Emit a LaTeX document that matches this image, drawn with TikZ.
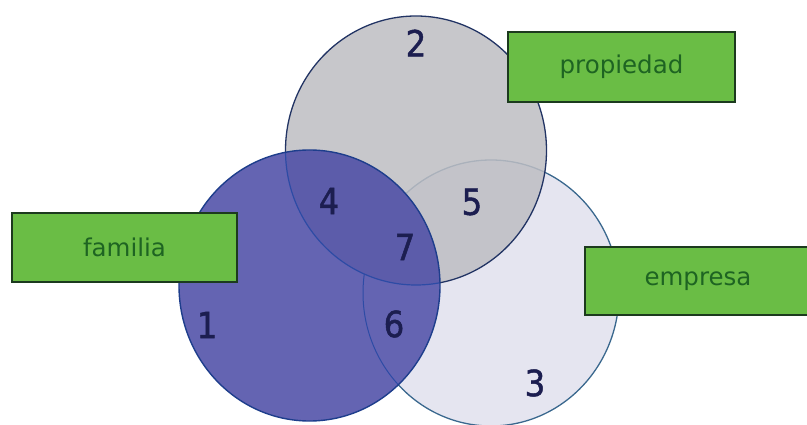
\documentclass[tikz,border=0pt]{standalone}
\usepackage{fontspec}
\setmainfont{DejaVu Sans}
\newfontfamily\digitfont[FakeBold=1.3,FakeStretch=0.9]{DejaVu Sans}
\definecolor{empfill}{RGB}{229,229,240}
\definecolor{empline}{RGB}{58,104,142}
\definecolor{grayfill}{RGB}{190,190,195}
\definecolor{grayline}{RGB}{34,52,100}
\definecolor{bluefill}{RGB}{100,100,178}
\definecolor{bluedeep}{RGB}{92,92,170}
\definecolor{blueline}{RGB}{30,62,140}
\definecolor{innerline}{RGB}{45,75,165}
\definecolor{boxfill}{RGB}{106,189,69}
\definecolor{boxedge}{RGB}{28,58,30}
\definecolor{boxtext}{RGB}{30,100,34}
\definecolor{digitcol}{RGB}{28,30,80}
\begin{document}
\begin{tikzpicture}[x=1pt,y=-1pt,
  labelbox/.style={draw=boxedge, line width=1.4pt, fill=boxfill, text=boxtext,
    inner sep=0pt, font=\fontsize{24.5}{28}\selectfont},
  digit/.style={text=digitcol, inner sep=0pt, font=\digitfont\fontsize{36}{40}\selectfont}]
\useasboundingbox (0,0) rectangle (807,425);
\fill[white] (0,0) rectangle (807,425);

% empresa circle (bottom layer)
\fill[empfill] (491,293) ellipse [x radius=128pt, y radius=133pt];
\draw[empline, line width=1.3pt] (491,293) ellipse [x radius=128pt, y radius=133pt];

% propiedad circle, slightly translucent so the empresa rim shows faintly
\fill[grayfill, fill opacity=0.85] (416,150.5) ellipse [x radius=130.5pt, y radius=134.5pt];
\draw[grayline, line width=1.3pt] (416,150.5) ellipse [x radius=130.5pt, y radius=134.5pt];

% familia circle
\fill[bluefill] (309.5,285.5) ellipse [x radius=130.5pt, y radius=135.5pt];
\begin{scope}
  \clip (309.5,285.5) ellipse [x radius=130.5pt, y radius=135.5pt];
  % empresa rim seen through familia
  \draw[innerline, line width=1pt] (491,293) ellipse [x radius=128pt, y radius=133pt];
  % overlap familia / propiedad, slightly deeper, hides the empresa rim
  \fill[bluedeep] (416,150.5) ellipse [x radius=130.5pt, y radius=134.5pt];
  \draw[innerline, line width=1.2pt] (416,150.5) ellipse [x radius=130.5pt, y radius=134.5pt];
\end{scope}
\draw[blueline, line width=1.4pt] (309.5,285.5) ellipse [x radius=130.5pt, y radius=135.5pt];

% region numbers
\node[digit] (n2) at (416,43) {2};
\node[digit] (n4) at (329,201) {4};
\node[digit] (n5) at (472,202) {5};
\node[digit] (n7) at (405,247) {7};
\node[digit] (n1) at (207,325) {1};
\node[digit] (n6) at (394,324) {6};
\node[digit] (n3) at (535,383) {3};

% labels
\node[labelbox, minimum width=227pt, minimum height=70pt] (propiedad) at (621.5,67) {propiedad};
\node[labelbox, minimum width=225pt, minimum height=69pt] (familia) at (124.5,247.5) {familia};
\node[labelbox, minimum width=226pt, minimum height=68pt] (empresa) at (698,281) {empresa};
\end{tikzpicture}
\end{document}
